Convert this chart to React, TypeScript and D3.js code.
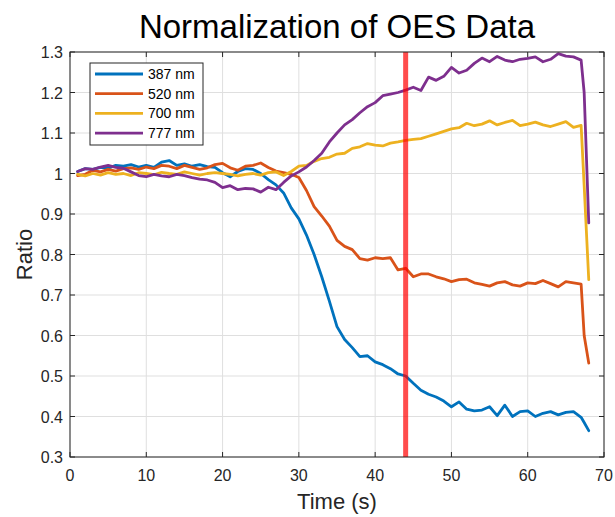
import React from 'react';
import * as d3 from 'd3';

// time axis (s), shared by all four traces
const time = [
  1, 2, 3, 4, 5, 6, 7, 8, 9, 10, 11, 12, 13, 14, 15, 16, 17, 18, 19, 20,
  21, 22, 23, 24, 25, 26, 27, 28, 29, 30, 31, 32, 33, 34, 35, 36, 37, 38, 39, 40,
  41, 42, 43, 44, 45, 46, 47, 48, 49, 50, 51, 52, 53, 54, 55, 56, 57, 58, 59, 60,
  61, 62, 63, 64, 65, 66, 67, 67.4, 68,
];

const nm387 = [
  1.005, 1.012, 1.010, 1.015, 1.013, 1.020, 1.018, 1.022, 1.016, 1.020,
  1.015, 1.028, 1.032, 1.020, 1.024, 1.018, 1.022, 1.017, 1.015, 1.002,
  0.992, 1.005, 1.012, 1.010, 1.000, 0.985, 0.972, 0.952, 0.915, 0.888,
  0.848, 0.800, 0.745, 0.685, 0.622, 0.590, 0.570, 0.548, 0.550, 0.535,
  0.528, 0.518, 0.505, 0.500, 0.482, 0.465, 0.455, 0.448, 0.438, 0.424,
  0.436, 0.418, 0.414, 0.416, 0.424, 0.402, 0.428, 0.400, 0.412, 0.414,
  0.400, 0.408, 0.412, 0.404, 0.410, 0.412, 0.398, 0.385, 0.365,
];

const nm520 = [
  0.995, 0.998, 1.008, 1.004, 1.010, 1.006, 1.012, 1.014, 1.010, 1.016,
  1.012, 1.020, 1.018, 1.012, 1.020, 1.015, 1.010, 1.014, 1.022, 1.025,
  1.014, 1.008, 1.018, 1.020, 1.026, 1.015, 1.006, 1.002, 0.998, 0.990,
  0.958, 0.918, 0.895, 0.870, 0.835, 0.820, 0.812, 0.790, 0.786, 0.792,
  0.790, 0.792, 0.762, 0.766, 0.745, 0.752, 0.752, 0.745, 0.740, 0.733,
  0.738, 0.739, 0.730, 0.726, 0.722, 0.730, 0.733, 0.725, 0.722, 0.730,
  0.728, 0.736, 0.728, 0.720, 0.733, 0.730, 0.727, 0.600, 0.532,
];

const nm700 = [
  0.998, 0.994, 1.000, 0.996, 1.002, 0.998, 1.000, 0.995, 1.002, 1.000,
  0.997, 1.003, 1.000, 0.998, 1.004, 1.000, 0.996, 1.000, 1.002, 1.000,
  0.998, 0.994, 0.998, 1.000, 0.996, 1.002, 1.004, 0.995, 1.005, 1.018,
  1.020, 1.030, 1.037, 1.040, 1.048, 1.050, 1.062, 1.066, 1.074, 1.070,
  1.068, 1.075, 1.078, 1.082, 1.084, 1.086, 1.092, 1.098, 1.104, 1.110,
  1.113, 1.124, 1.118, 1.122, 1.130, 1.120, 1.126, 1.131, 1.118, 1.122,
  1.127, 1.120, 1.116, 1.122, 1.128, 1.114, 1.119, 0.970, 0.738,
];

const nm777 = [
  1.005, 1.012, 1.010, 1.016, 1.020, 1.015, 1.013, 1.004, 0.995, 0.992,
  0.998, 0.994, 0.992, 0.998, 0.995, 0.990, 0.986, 0.984, 0.978, 0.965,
  0.970, 0.960, 0.963, 0.962, 0.954, 0.966, 0.960, 0.978, 0.994, 1.004,
  1.016, 1.032, 1.050, 1.078, 1.100, 1.120, 1.133, 1.150, 1.165, 1.175,
  1.192, 1.196, 1.200, 1.206, 1.213, 1.205, 1.238, 1.230, 1.240, 1.262,
  1.248, 1.255, 1.272, 1.285, 1.276, 1.289, 1.280, 1.276, 1.282, 1.284,
  1.288, 1.276, 1.282, 1.296, 1.290, 1.288, 1.280, 1.200, 0.878,
];

const seriesNames = ['387 nm', '520 nm', '700 nm', '777 nm'];
const seriesValues = [nm387, nm520, nm700, nm777];
const seriesColors = ['#0072BD', '#D95319', '#EDB120', '#7E2F8E'];

const xTicks = [0, 10, 20, 30, 40, 50, 60, 70];
const yTicks = [0.3, 0.4, 0.5, 0.6, 0.7, 0.8, 0.9, 1, 1.1, 1.2, 1.3];
const markerTime = 44;

const W = 615, H = 517;
const margin = { left: 70, right: 11, top: 52, bottom: 60 };
const font = 'Helvetica, Arial, "Liberation Sans", sans-serif';

export default function App() {
  const x = d3.scaleLinear().domain([0, 70]).range([margin.left, W - margin.right]);
  const y = d3.scaleLinear().domain([0.3, 1.3]).range([H - margin.bottom, margin.top]);

  const line = d3.line<number>()
    .x((d, i) => x(time[i]))
    .y(d => y(d));

  const [x0, x1] = x.range();
  const [y0, y1] = y.range();
  const axisColor = '#262626';
  const tickLen = 5;

  return (
    <svg width={W} height={H} style={{ position: 'absolute', left: 0, top: 0, background: '#fff' }}
      fontFamily={font}>
      <rect x={0} y={0} width={W} height={H} fill="#fff" />

      {/* grid */}
      {xTicks.map(t => (
        <line key={'gx' + t} x1={x(t)} x2={x(t)} y1={y0} y2={y1} stroke="#dfdfdf" strokeWidth={1} />
      ))}
      {yTicks.map(t => (
        <line key={'gy' + t} x1={x0} x2={x1} y1={y(t)} y2={y(t)} stroke="#dfdfdf" strokeWidth={1} />
      ))}

      {/* data */}
      {seriesValues.map((vals, i) => (
        <path key={seriesNames[i]} d={line(vals) || ''} fill="none" stroke={seriesColors[i]}
          strokeWidth={2.8} strokeLinejoin="round" strokeLinecap="round" />
      ))}

      {/* marker at 44 s */}
      <line x1={x(markerTime)} x2={x(markerTime)} y1={y0} y2={y1} stroke="#ff0000" strokeOpacity={0.7} strokeWidth={5} />

      {/* box and ticks */}
      <rect x={x0} y={y1} width={x1 - x0} height={y0 - y1} fill="none" stroke={axisColor} strokeWidth={1} />
      {xTicks.map(t => (
        <g key={'tx' + t}>
          <line x1={x(t)} x2={x(t)} y1={y0} y2={y0 - tickLen} stroke={axisColor} />
          <line x1={x(t)} x2={x(t)} y1={y1} y2={y1 + tickLen} stroke={axisColor} />
          <text x={x(t)} y={y0 + 24} textAnchor="middle" fontSize={16} fill={axisColor}>{t}</text>
        </g>
      ))}
      {yTicks.map(t => (
        <g key={'ty' + t}>
          <line x1={x0} x2={x0 + tickLen} y1={y(t)} y2={y(t)} stroke={axisColor} />
          <line x1={x1} x2={x1 - tickLen} y1={y(t)} y2={y(t)} stroke={axisColor} />
          <text x={x0 - 7} y={y(t) + 6} textAnchor="end" fontSize={16} fill={axisColor}>{d3.format('~g')(t)}</text>
        </g>
      ))}

      {/* labels */}
      <text x={(x0 + x1) / 2} y={38} textAnchor="middle" fontSize={33} fill="#000">Normalization of OES Data</text>
      <text x={(x0 + x1) / 2} y={509} textAnchor="middle" fontSize={22} fill={axisColor}>Time (s)</text>
      <text transform={`translate(32,${(y0 + y1) / 2}) rotate(-90)`} textAnchor="middle" fontSize={22} fill={axisColor}>Ratio</text>

      {/* legend */}
      <g transform="translate(90,63)">
        <rect x={0} y={0} width={113} height={82} fill="#fff" stroke={axisColor} strokeWidth={1} />
        {seriesNames.map((name, i) => (
          <g key={'lg' + name} transform={`translate(0,${11 + i * 19.7})`}>
            <line x1={5} x2={53} y1={0} y2={0} stroke={seriesColors[i]} strokeWidth={2.8} />
            <text x={58} y={5} fontSize={14} fill="#000">{name}</text>
          </g>
        ))}
      </g>
    </svg>
  );
}
